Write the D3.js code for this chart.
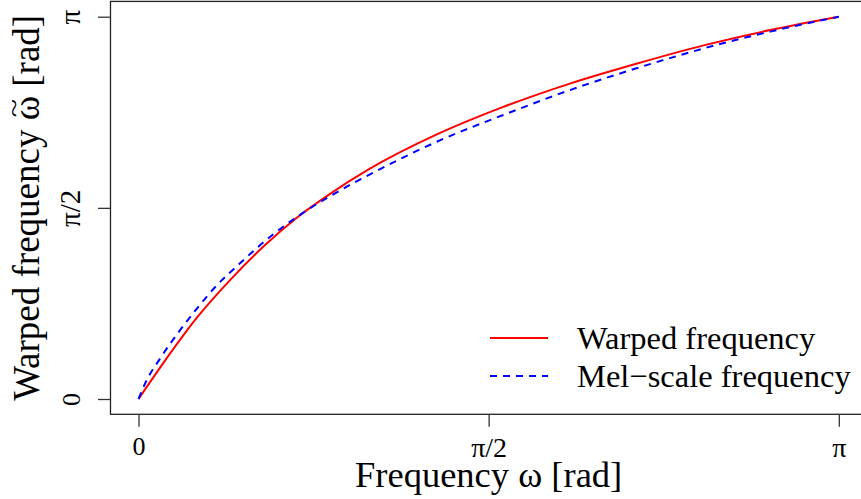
<!DOCTYPE html>
<html lang="en">
<head>
<meta charset="utf-8">
<title>Warped frequency</title>
<script src="https://d3js.org/d3.v7.min.js"></script>
<style>
body { margin: 0; background: #fff; }
text { font-family: "Liberation Serif", "Times New Roman", serif; fill: #000; }
</style>
</head>
<body>
<script>
// values are in units of pi (0 .. 1)
var omega     = [0, 0.0354, 0.0831, 0.1307, 0.178, 0.226, 0.273, 0.331, 0.426, 0.521, 0.616, 0.711, 0.807, 0.902, 1];
var warped    = [0, 0.094, 0.212, 0.311, 0.398, 0.474, 0.536, 0.603, 0.692, 0.764, 0.825, 0.877, 0.925, 0.965, 1];
var omegaMel  = [0, 0.0093, 0.0331, 0.0593, 0.0831, 0.1117, 0.1449, 0.1925, 0.226, 0.273, 0.302, 0.335, 0.426, 0.521, 0.616, 0.711, 0.807, 0.902, 1];
var mel       = [0, 0.040, 0.112, 0.180, 0.236, 0.297, 0.355, 0.431, 0.476, 0.530, 0.560, 0.592, 0.673, 0.743, 0.808, 0.865, 0.917, 0.961, 1];
var tickVals  = [0, 0.5, 1];
var tickLabels = ["0", "\u03c0/2", "\u03c0"];
var seriesNames = ["Warped frequency", "Mel\u2212scale frequency"];

var w = 861, h = 499;
var serif = "Liberation Serif";

var x = d3.scaleLinear().domain([0, 1]).range([138.5, 838.8]);
var y = d3.scaleLinear().domain([0, 1]).range([399, 16.7]);

var svg = d3.select("body").append("svg")
  .attr("width", w)
  .attr("height", h);

// plot box (R extends the range by 4% each side)
svg.append("rect")
  .attr("x", x(-0.04))
  .attr("y", y(1.04))
  .attr("width", x(1.04) - x(-0.04))
  .attr("height", y(-0.04) - y(1.04))
  .attr("fill", "none")
  .attr("stroke", "#222")
  .attr("stroke-width", 1.3);

// x axis
var xAxis = svg.append("g")
  .attr("transform", "translate(0," + y(-0.04) + ")")
  .call(d3.axisBottom(x).tickValues(tickVals)
    .tickFormat(function(d, i) { return tickLabels[i]; })
    .tickSize(12.5).tickPadding(10));
xAxis.select(".domain").remove();
xAxis.selectAll("line").attr("stroke", "#333").attr("stroke-width", 1.3);
xAxis.selectAll("text")
  .attr("font-family", serif)
  .attr("font-size", function(d, i) { return i == 0 ? 26 : 28; });

// y axis
var yAxis = svg.append("g")
  .attr("transform", "translate(" + x(-0.04) + ",0)")
  .call(d3.axisLeft(y).tickValues(tickVals)
    .tickFormat(function(d, i) { return tickLabels[i]; })
    .tickSize(12.5));
yAxis.select(".domain").remove();
yAxis.selectAll("line").attr("stroke", "#333").attr("stroke-width", 1.3);
yAxis.selectAll("text")
  .attr("font-family", serif)
  .attr("font-size", function(d, i) { return i == 0 ? 26 : 29; })
  .attr("transform", "rotate(-90)")
  .attr("x", 0)
  .attr("y", -30)
  .attr("dy", 0)
  .attr("text-anchor", "middle");

// axis titles
svg.append("text")
  .attr("x", x(0.5))
  .attr("y", 487)
  .attr("text-anchor", "middle")
  .attr("font-family", serif)
  .attr("font-size", 36.5)
  .text("Frequency \u03c9 [rad]");

var yTitle = svg.append("g")
  .attr("transform", "translate(39," + y(0.5) + ") rotate(-90)");
var yTitleText = yTitle.append("text")
  .attr("text-anchor", "middle")
  .attr("font-family", serif)
  .attr("font-size", 37)
  .text("Warped frequency \u03c9 [rad]");
// tilde over omega
var ext = yTitleText.node().getExtentOfChar(17);
yTitle.append("text")
  .attr("transform", "translate(" + (ext.x + ext.width / 2) + ",-17) scale(1.4,1)")
  .attr("text-anchor", "middle")
  .attr("font-family", serif)
  .attr("font-size", 24)
  .text("~");

// curves
var line = d3.line()
  .x(function(d) { return x(d[0]); })
  .y(function(d) { return y(d[1]); })
  .curve(d3.curveMonotoneX);

svg.append("path")
  .datum(d3.zip(omega, warped))
  .attr("d", line)
  .attr("fill", "none")
  .attr("stroke", "#ff0000")
  .attr("stroke-width", 2);

svg.append("path")
  .datum(d3.zip(omegaMel, mel))
  .attr("d", line)
  .attr("fill", "none")
  .attr("stroke", "#0000ff")
  .attr("stroke-width", 2)
  .attr("stroke-dasharray", "7,6");

// legend
var legend = svg.selectAll(".legend")
  .data(seriesNames)
  .enter()
  .append("g")
  .attr("class", "legend")
  .attr("transform", function(d, i) { return "translate(490," + (338 + i * 38) + ")"; });

legend.append("line")
  .attr("x1", 0).attr("x2", 58)
  .attr("y1", 0).attr("y2", 0)
  .attr("stroke", function(d, i) { return i == 0 ? "#ff0000" : "#0000ff"; })
  .attr("stroke-width", 2)
  .attr("stroke-dasharray", function(d, i) { return i == 0 ? null : "7,6"; });

legend.append("text")
  .attr("x", 87)
  .attr("y", 11)
  .attr("font-family", serif)
  .attr("font-size", 32.5)
  .text(function(d) { return d; });
</script>
</body>
</html>
